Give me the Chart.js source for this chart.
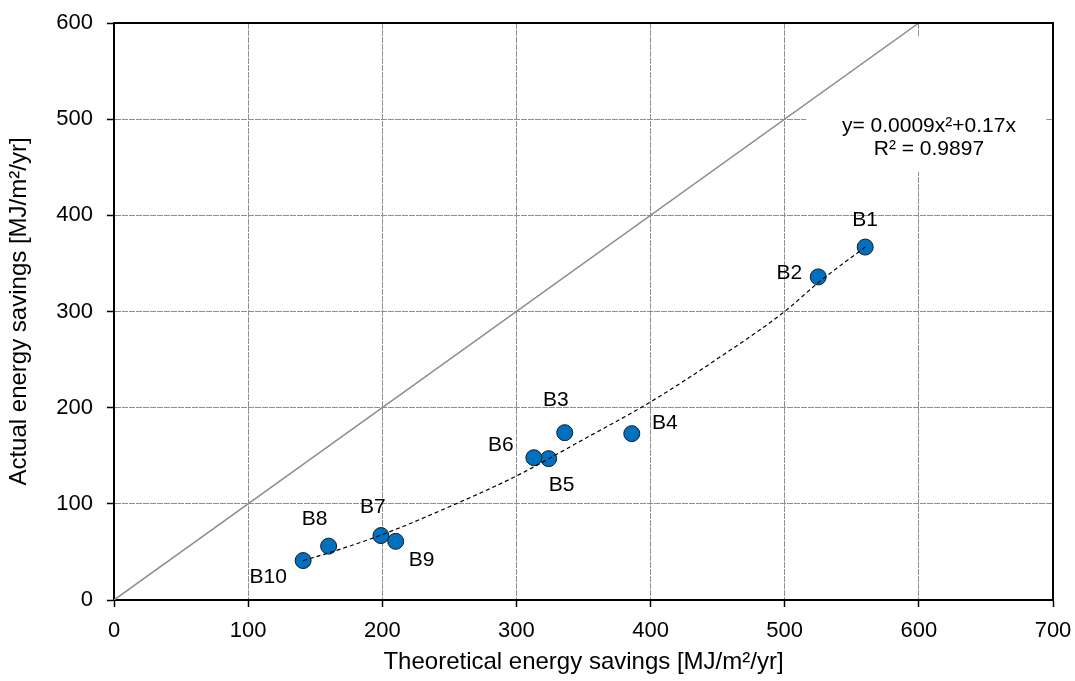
<!DOCTYPE html>
<html>
<head>
<meta charset="utf-8">
<script src="https://cdn.jsdelivr.net/npm/chart.js@4/dist/chart.umd.min.js"></script>
<style>
  html, body { margin: 0; padding: 0; background: #fff; }
  #wrap { width: 1075px; height: 681px; }
</style>
</head>
<body>
<div id="wrap"><canvas id="c" width="1075" height="681"></canvas></div>
<script>
// ---- data ----
const buildingNames = ['B1', 'B2', 'B3', 'B4', 'B5', 'B6', 'B7', 'B8', 'B9', 'B10'];
const theoretical = [560, 525, 336, 386, 324, 313, 199, 160, 210, 141];
const actual = [367, 336, 174, 173, 147, 148, 67, 56, 61, 41];
const trendX = [141, 160, 200, 250, 300, 350, 400, 450, 500, 525, 560];
const trendY = [41, 49, 68, 97, 129, 167, 206, 251, 300, 330, 367];
const identityX = [0, 600];
const identityY = [0, 600];
const xTicks = [0, 100, 200, 300, 400, 500, 600, 700];
const yTicks = [0, 100, 200, 300, 400, 500, 600];
const equationLines = ['y= 0.0009x\u00b2+0.17x', 'R\u00b2 = 0.9897'];

// ---- styling (label offsets in px, not data) ----
const labelOffsets = [[0,-27],[-29,-4],[-9,-32],[33,-10],[13,27],[-33,-12],[-8,-28],[-14,-27],[26,19],[-35,17]];
const FONT = '"Liberation Sans", Arial, sans-serif';

const toXY = (xs, ys) => xs.map((x, i) => ({x: x, y: ys[i]}));

const frame = {
  id: 'frame',
  afterDraw(chart) {
    const {ctx, chartArea: a} = chart;
    ctx.save();
    ctx.strokeStyle = '#000';
    ctx.lineWidth = 2;
    ctx.beginPath();
    ctx.moveTo(a.left, a.top);
    ctx.lineTo(a.right, a.top);
    ctx.lineTo(a.right, a.bottom);
    ctx.stroke();
    ctx.restore();
  }
};

const equationBox = {
  id: 'equationBox',
  beforeDatasetsDraw(chart) {
    const {ctx} = chart;
    const xs = chart.scales.x, ys = chart.scales.y;
    const l = xs.getPixelForValue(516), r = xs.getPixelForValue(695);
    const t = ys.getPixelForValue(585), b = ys.getPixelForValue(445);
    ctx.save();
    ctx.fillStyle = '#fff';
    ctx.fillRect(l, t, r - l, b - t);
    ctx.fillStyle = '#000';
    ctx.font = '21px ' + FONT;
    ctx.textAlign = 'center';
    ctx.textBaseline = 'middle';
    const cx = xs.getPixelForValue(607.5);
    ctx.fillText(equationLines[0], cx, ys.getPixelForValue(493));
    ctx.fillText(equationLines[1], cx, ys.getPixelForValue(469));
    ctx.restore();
  }
};

const pointLabels = {
  id: 'pointLabels',
  afterDatasetsDraw(chart) {
    const {ctx} = chart;
    const meta = chart.getDatasetMeta(1);
    ctx.save();
    ctx.fillStyle = '#000';
    ctx.font = '21px ' + FONT;
    ctx.textAlign = 'center';
    ctx.textBaseline = 'middle';
    meta.data.forEach((el, i) => {
      const o = labelOffsets[i];
      ctx.fillText(buildingNames[i], el.x + o[0], el.y + o[1]);
    });
    ctx.restore();
  }
};

new Chart(document.getElementById('c'), {
  type: 'scatter',
  data: {
    datasets: [
      {
        label: 'Trend',
        type: 'line',
        data: toXY(trendX, trendY),
        borderColor: '#000',
        borderWidth: 1.2,
        borderDash: [4, 3],
        pointRadius: 0,
        fill: false,
        cubicInterpolationMode: 'monotone',
        order: 0
      },
      {
        label: 'Buildings',
        data: toXY(theoretical, actual),
        backgroundColor: '#0070C0',
        borderColor: '#1a1a1a',
        borderWidth: 1,
        pointRadius: 8,
        pointHoverRadius: 8,
        order: 1
      },
      {
        label: 'y = x',
        type: 'line',
        data: toXY(identityX, identityY),
        borderColor: '#8c8c8c',
        borderWidth: 1.5,
        pointRadius: 0,
        fill: false,
        order: 2
      }
    ]
  },
  options: {
    responsive: false,
    animation: false,
    events: [],
    layout: { padding: { left: 0, right: 22, top: 23, bottom: 0 } },
    plugins: {
      legend: { display: false },
      tooltip: { enabled: false }
    },
    scales: {
      x: {
        type: 'linear',
        min: 0, max: 700,
        afterBuildTicks: s => { s.ticks = xTicks.map(v => ({value: v})); },
        afterFit: s => { s.height = 81; s.paddingLeft = 0; s.paddingRight = 0; },
        ticks: { color: '#000', font: { family: FONT, size: 22 }, padding: 11, maxRotation: 0 },
        grid: { color: '#8f8f8f', lineWidth: 1, tickColor: '#000', tickLength: 7, tickWidth: 1.5 },
        border: { color: '#000', width: 2, dash: [6, 1] },
        title: { display: true, text: 'Theoretical energy savings [MJ/m\u00b2/yr]', color: '#000',
                 font: { family: FONT, size: 24 }, padding: { top: 0, bottom: 4 } }
      },
      y: {
        type: 'linear',
        min: 0, max: 600,
        afterBuildTicks: s => { s.ticks = yTicks.map(v => ({value: v})); },
        afterFit: s => { s.width = 114; s.paddingTop = 0; s.paddingBottom = 0; },
        ticks: { color: '#000', font: { family: FONT, size: 22 }, padding: 14 },
        grid: { color: '#8f8f8f', lineWidth: 1, tickColor: '#000', tickLength: 7, tickWidth: 1.5 },
        border: { color: '#000', width: 2, dash: [6, 1] },
        title: { display: true, text: 'Actual energy savings [MJ/m\u00b2/yr]', color: '#000',
                 font: { family: FONT, size: 24 }, padding: { top: 5, bottom: 0 } }
      }
    }
  },
  plugins: [equationBox, pointLabels, frame]
});
</script>
</body>
</html>
